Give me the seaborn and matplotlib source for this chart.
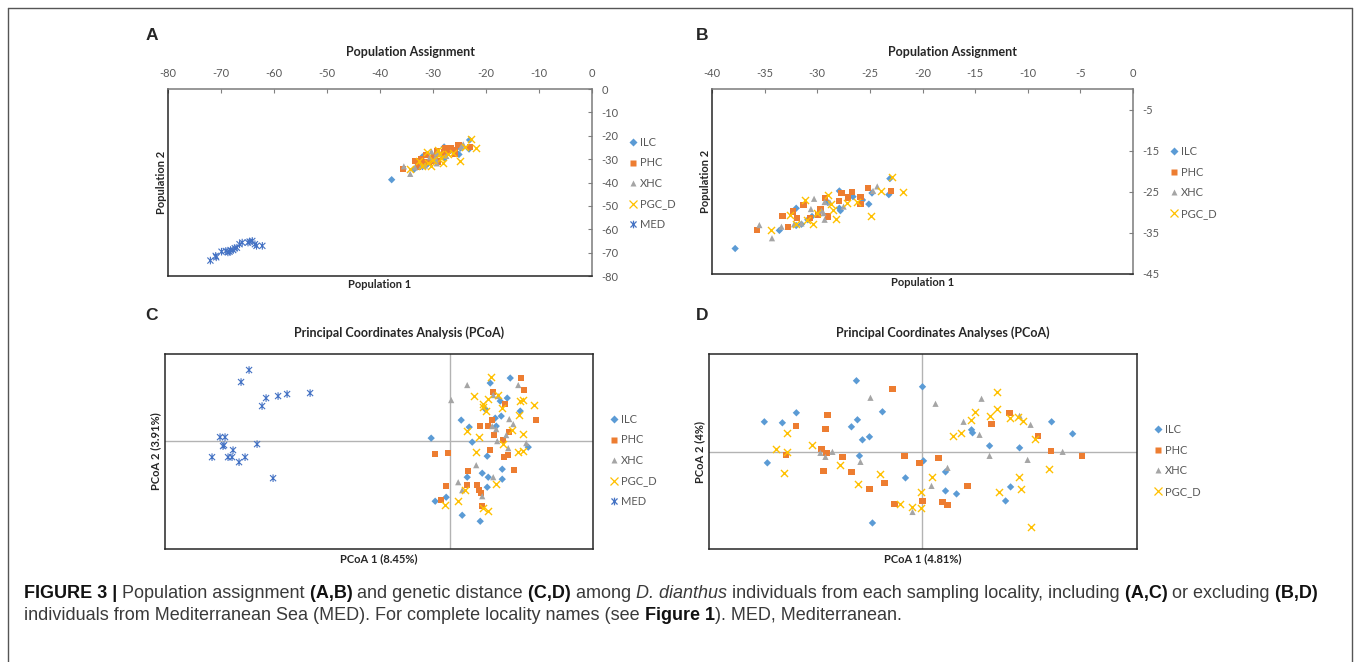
import matplotlib
matplotlib.use("Agg")
import matplotlib.pyplot as plt
from matplotlib.lines import Line2D
from matplotlib.path import Path
from matplotlib import font_manager
import pandas as pd
import seaborn as sns

sns.set_style("white")
plt.rcParams['font.family'] = ['Lato', 'DejaVu Sans']
plt.rcParams['axes.unicode_minus'] = False

W, H = 1357, 662

# ---- Population assignment (A, B): the non-MED cluster is the same in both panels
ilc_p1 = [-37.8, -33.6, -32.0, -31.5, -32.0, -30.9, -30.5, -27.9, -27.9, -27.8, -26.6, -25.7, -25.1, -24.8, -23.2, -23.1, -29.0]
ilc_p2 = [-38.8, -34.4, -33.2, -32.9, -29.0, -31.8, -31.0, -24.8, -29.0, -29.6, -26.2, -27.0, -28.0, -25.3, -25.7, -21.8, -27.6]
phc_p1 = [-35.7, -33.3, -32.8, -32.3, -31.9, -31.3, -30.7, -29.9, -29.7, -29.3, -29.0, -27.9, -27.7, -27.1, -26.7, -25.9, -25.9, -25.2, -23.0]
phc_p2 = [-34.3, -30.9, -33.5, -29.8, -31.3, -28.3, -31.3, -30.6, -29.2, -26.6, -31.0, -27.2, -25.3, -26.4, -25.1, -26.2, -27.9, -24.0, -24.9]
xhc_p1 = [-35.5, -34.3, -33.4, -32.2, -31.5, -30.6, -30.3, -29.6, -29.4, -29.3, -28.8, -29.3, -27.5, -24.7, -24.3]
xhc_p2 = [-33.1, -36.3, -33.5, -32.9, -32.7, -29.2, -26.7, -29.6, -30.2, -31.8, -27.6, -27.5, -28.6, -24.8, -23.7]
pgc_p1 = [-34.4, -32.6, -31.2, -31.0, -30.4, -30.0, -29.0, -28.7, -28.5, -28.2, -27.2, -26.2, -24.9, -23.9, -22.9, -21.9, -32.0]
pgc_p2 = [-34.4, -30.6, -27.0, -31.8, -32.9, -30.2, -25.9, -28.0, -29.4, -31.6, -27.8, -27.4, -30.8, -24.8, -21.5, -25.1, -32.9]
med_p1 = [-72.0, -71.0, -70.9, -69.9, -69.1, -68.7, -68.4, -68.2, -67.7, -67.4, -67.0, -66.5, -66.0, -64.9, -64.6, -64.1, -63.6, -63.3, -62.2]
med_p2 = [-73.4, -71.4, -72.0, -69.6, -69.3, -69.9, -69.6, -68.9, -68.9, -68.1, -67.9, -66.4, -65.7, -65.7, -65.3, -65.0, -66.4, -67.1, -67.1]

# ---- PCoA with MED (C)
c_ilc_x = [-0.19, 0.11, 0.19, 0.22, 0.35, 0.40, 0.45, 0.46, 0.51, 0.50, 0.57, 0.60, 0.70, 0.78, 0.37, 0.32, 0.38, 0.17, 0.52, 0.52, 0.37, -0.04, -0.15, 0.12, 0.30]
c_ilc_y = [0.03, 0.21, 0.14, -0.01, 0.32, 0.58, 0.23, 0.15, 0.25, 0.40, 0.43, 0.63, 0.30, -0.06, -0.15, -0.32, -0.36, -0.36, -0.28, -0.38, -0.46, -0.56, -0.60, -0.74, -0.80]
c_phc_x = [-0.15, -0.02, 0.30, 0.38, 0.42, 0.43, 0.55, 0.44, 0.53, 0.59, 0.71, 0.74, 0.86, 0.54, 0.58, 0.64, 0.40, 0.18, 0.17, 0.27, 0.29, 0.31, -0.04, -0.09, 0.32]
c_phc_y = [-0.13, -0.12, 0.15, 0.15, 0.21, 0.49, 0.37, 0.06, 0.01, 0.09, 0.63, 0.51, 0.21, -0.16, -0.14, -0.29, -0.09, -0.30, -0.44, -0.44, -0.49, -0.52, -0.45, -0.59, -0.65]
c_xhc_x = [0.17, 0.01, 0.43, 0.48, 0.68, 0.59, 0.63, 0.42, 0.46, 0.56, 0.47, 0.58, 0.76, 0.26, 0.43, 0.08, 0.12, 0.32]
c_xhc_y = [0.56, 0.41, 0.46, 0.45, 0.56, 0.22, 0.17, 0.15, 0.12, 0.06, 0.00, -0.07, -0.02, -0.24, -0.36, -0.41, -0.49, -0.55]
c_pgc_x = [0.41, 0.24, 0.33, 0.38, 0.48, 0.33, 0.36, 0.52, 0.70, 0.73, 0.84, 0.69, 0.62, 0.73, 0.17, 0.29, 0.53, 0.26, 0.68, 0.73, 0.46, 0.15, 0.08, -0.05, 0.33, 0.38]
c_pgc_y = [0.64, 0.45, 0.37, 0.42, 0.46, 0.34, 0.30, 0.33, 0.40, 0.41, 0.36, 0.26, 0.11, 0.07, 0.10, 0.04, -0.03, -0.11, -0.11, -0.10, -0.43, -0.49, -0.60, -0.64, -0.67, -0.70]
c_med_x = [-2.01, -2.09, -1.84, -1.88, -1.72, -1.63, -1.40, -2.30, -2.25, -2.27, -2.26, -2.17, -1.93, -2.38, -2.22, -2.18, -2.11, -2.05, -1.77]
c_med_y = [0.71, 0.59, 0.43, 0.35, 0.45, 0.47, 0.48, 0.04, 0.04, -0.05, -0.04, -0.09, -0.03, -0.16, -0.16, -0.16, -0.21, -0.16, -0.37]

# ---- PCoA without MED (D)
d_ilc_x = [-1.58, -1.40, -1.26, -1.55, -0.66, -0.71, -0.65, -0.40, -0.60, -0.53, -0.63, 0.00, 0.01, -0.17, 0.23, 0.23, 0.34, -0.50, 0.49, 0.50, 0.67, 0.97, 1.29, 1.50, 0.88, 0.83]
d_ilc_y = [0.30, 0.29, 0.39, -0.11, 0.71, 0.25, 0.32, 0.40, 0.12, 0.15, -0.04, 0.65, -0.09, -0.26, -0.39, -0.20, -0.42, -0.71, 0.22, 0.19, 0.06, 0.04, 0.30, 0.18, -0.35, -0.49]
d_phc_x = [-1.26, -1.36, -0.95, -0.97, -1.01, -0.96, -0.99, -0.80, -0.71, -0.53, -0.38, -0.30, -0.18, -0.03, 0.16, -0.28, 0.00, 0.20, 0.25, 0.45, 0.69, 0.87, 1.15, 1.28, 1.59]
d_phc_y = [0.26, -0.03, 0.37, 0.23, 0.03, -0.01, -0.19, -0.05, -0.20, -0.37, -0.31, 0.63, -0.04, -0.11, -0.06, -0.52, -0.49, -0.50, -0.53, -0.34, 0.28, 0.39, 0.16, 0.01, -0.04]
d_xhc_x = [-0.52, -1.02, -0.97, -0.90, -0.62, 0.13, 0.25, 0.09, -0.10, 0.59, 0.41, 0.57, 0.67, 0.97, 1.08, 1.05, 1.40]
d_xhc_y = [0.54, -0.01, -0.05, 0.00, -0.10, 0.48, -0.16, -0.34, -0.60, 0.53, 0.30, 0.17, -0.04, 0.36, 0.27, -0.08, 0.00]
d_pgc_x = [-1.35, -1.46, -1.35, -1.38, -1.10, -0.82, -0.64, -0.42, -0.22, -0.10, -0.01, -0.01, 0.09, 0.30, 0.38, 0.52, 0.48, 0.67, 0.74, 0.74, 0.87, 0.95, 1.00, 1.12, 0.96, 0.98, 0.76, 1.26, 1.08]
d_pgc_y = [0.19, 0.03, 0.00, -0.21, 0.07, -0.13, -0.32, -0.22, -0.52, -0.55, -0.40, -0.56, -0.25, 0.16, 0.19, 0.40, 0.32, 0.36, 0.43, 0.60, 0.34, 0.35, 0.31, 0.13, -0.25, -0.37, -0.40, -0.17, -0.75]

colors = {'ILC': '#5B9BD5', 'PHC': '#ED7D31', 'XHC': '#A5A5A5', 'PGC_D': '#FFC000', 'MED': '#4472C4'}
star = Path([(-1, -1), (1, 1), (-1, 1), (1, -1), (0, -1.25), (0, 1.25)],
            [Path.MOVETO, Path.LINETO, Path.MOVETO, Path.LINETO, Path.MOVETO, Path.LINETO])
markers = {'ILC': 'D', 'PHC': 's', 'XHC': '^', 'PGC_D': 'x', 'MED': star}
sizes = {'ILC': 14, 'PHC': 20, 'XHC': 20, 'PGC_D': 26, 'MED': 30}


def make_df(groups):
    frames = []
    for name, xs, ys in groups:
        frames.append(pd.DataFrame({'x': xs, 'y': ys, 'locality': name}))
    return pd.concat(frames, ignore_index=True)


assign_all = make_df([('ILC', ilc_p1, ilc_p2), ('PHC', phc_p1, phc_p2), ('XHC', xhc_p1, xhc_p2),
                      ('PGC_D', pgc_p1, pgc_p2), ('MED', med_p1, med_p2)])
assign_nomed = assign_all[assign_all['locality'] != 'MED']
pcoa_all = make_df([('ILC', c_ilc_x, c_ilc_y), ('PHC', c_phc_x, c_phc_y), ('XHC', c_xhc_x, c_xhc_y),
                    ('PGC_D', c_pgc_x, c_pgc_y), ('MED', c_med_x, c_med_y)])
pcoa_nomed = make_df([('ILC', d_ilc_x, d_ilc_y), ('PHC', d_phc_x, d_phc_y), ('XHC', d_xhc_x, d_xhc_y),
                      ('PGC_D', d_pgc_x, d_pgc_y)])


def draw_points(ax, df):
    for name in df['locality'].unique():
        sub = df[df['locality'] == name]
        c = colors[name]
        if name == 'PGC_D':
            kw = dict(color=c, linewidth=1.0)
        elif name == 'MED':
            kw = dict(color=c, facecolor='none', edgecolor=c, linewidth=0.8)
        else:
            kw = dict(color=c, edgecolor='none', linewidth=0)
        sns.scatterplot(data=sub, x='x', y='y', marker=markers[name], s=sizes[name], ax=ax, zorder=3, **kw)


def add_legend(fig, names, mx, yc):
    handles = []
    for name in names:
        m = markers[name]
        ms = sizes[name] ** 0.5
        if name in ('PGC_D', 'MED'):
            h = Line2D([], [], ls='none', marker=m, markersize=ms, markeredgecolor=colors[name],
                       markerfacecolor='none', markeredgewidth=0.9)
        else:
            h = Line2D([], [], ls='none', marker=m, markersize=ms, markerfacecolor=colors[name],
                       markeredgecolor='none')
        handles.append(h)
    fs = 8
    f_px = fs * 100 / 72
    leg = fig.legend(handles, names, loc='center left', bbox_to_anchor=((mx - 0.3 * f_px) / W, 1 - yc / H),
                     frameon=False, fontsize=fs, handlelength=0.6, handletextpad=0.35, labelspacing=0.86,
                     borderpad=0, borderaxespad=0)
    for t in leg.get_texts():
        t.set_color('#595959')


def box(l, t, r, b):
    return [l / W, 1 - b / H, (r - l) / W, (b - t) / H]


fig = plt.figure(figsize=(W / 100, H / 100), dpi=100)

axA = fig.add_axes(box(168, 89, 592, 276))
axB = fig.add_axes(box(712, 89, 1133, 274))
axC = fig.add_axes(box(165, 354, 593, 549))
axD = fig.add_axes(box(709, 354, 1137, 549))

draw_points(axA, assign_all)
draw_points(axB, assign_nomed)
draw_points(axC, pcoa_all)
draw_points(axD, pcoa_nomed)

for ax, xlim, ylim, xt, yt in [(axA, (-80, 0), (-80, 0), range(-80, 1, 10), range(-80, 1, 10)),
                               (axB, (-40, 0), (-45, 0), range(-40, 1, 5), range(-45, 0, 10))]:
    ax.set_xlim(xlim)
    ax.set_ylim(ylim)
    ax.xaxis.tick_top()
    ax.yaxis.tick_right()
    ax.set_xticks(list(xt))
    ax.set_yticks(list(yt))
    ax.tick_params(direction='in', length=3, width=0.8, color='#808080', labelsize=8,
                   labelcolor='#595959', pad=7)
    ax.xaxis.set_label_position('bottom')
    ax.yaxis.set_label_position('left')
    ax.set_xlabel('Population 1', fontsize=8, fontweight='bold', color='#262626', labelpad=2)
    ax.set_ylabel('Population 2', fontsize=8, fontweight='bold', color='#262626', labelpad=1)
    for side in ['left', 'bottom']:
        ax.spines[side].set_color('#262626')
        ax.spines[side].set_linewidth(1.1)
    for side in ['top', 'right']:
        ax.spines[side].set_color('#7a7a7a')
        ax.spines[side].set_linewidth(1.1)

for ax, xlim, ylim, xl, yl in [(axC, (-2.85, 1.427), (-1.077, 0.87), 'PCoA 1 (8.45%)', 'PCoA 2 (3.91%)'),
                               (axD, (-2.133, 2.143), (-0.97, 0.977), 'PCoA 1 (4.81%)', 'PCoA 2 (4%)')]:
    ax.set_xlim(xlim)
    ax.set_ylim(ylim)
    ax.set_xticks([])
    ax.set_yticks([])
    ax.axhline(0, color='#b3b3b3', lw=1, zorder=1)
    ax.axvline(0, color='#b3b3b3', lw=1, zorder=1)
    ax.set_xlabel(xl, fontsize=8, fontweight='bold', color='#262626', labelpad=3)
    ax.set_ylabel(yl, fontsize=8, fontweight='bold', color='#262626', labelpad=3)
    for side in ax.spines:
        ax.spines[side].set_color('#262626')
        ax.spines[side].set_linewidth(1.1)

add_legend(fig, ['ILC', 'PHC', 'XHC', 'PGC_D', 'MED'], 633, 183.5)
add_legend(fig, ['ILC', 'PHC', 'XHC', 'PGC_D'], 1174, 182.5)
add_legend(fig, ['ILC', 'PHC', 'XHC', 'PGC_D', 'MED'], 614, 460.5)
add_legend(fig, ['ILC', 'PHC', 'XHC', 'PGC_D'], 1158, 460.5)

titles = [('Population Assignment', 411, 52), ('Population Assignment', 953, 52),
          ('Principal Coordinates Analysis (PCoA)', 399, 333), ('Principal Coordinates Analyses (PCoA)', 943, 333)]
for txt, x, y in titles:
    fig.text(x / W, 1 - y / H, txt, fontsize=9, fontweight='bold', color='#262626', ha='center', va='center')

for letter, x, y in [('A', 152, 35), ('B', 702, 35), ('C', 152, 315), ('D', 702, 315)]:
    fig.text(x / W, 1 - y / H, letter, fontsize=12.5, fontweight='bold', family='Liberation Sans',
             ha='center', va='center')

# outer frame, open at the bottom
frame_kw = dict(transform=fig.transFigure, color='#555555', lw=1)
fig.add_artist(Line2D([8 / W, 8 / W], [0, 1 - 8 / H], **frame_kw))
fig.add_artist(Line2D([8 / W, 1352 / W], [1 - 8 / H, 1 - 8 / H], **frame_kw))
fig.add_artist(Line2D([1352 / W, 1352 / W], [0, 1 - 8 / H], **frame_kw))

# caption with mixed bold / italic runs (spaces lead each run, never trail)
names = {f.name for f in font_manager.fontManager.ttflist}
cap_family = 'Liberation Sans Narrow' if 'Liberation Sans Narrow' in names else 'Liberation Sans'
REG, BLD = '#3a3a3a', '#111111'
line1 = [('FIGURE 3 |', 'bold', 'normal', BLD), (' Population assignment', 'normal', 'normal', REG),
         (' (A,B)', 'bold', 'normal', BLD), (' and genetic distance', 'normal', 'normal', REG),
         (' (C,D)', 'bold', 'normal', BLD), (' among', 'normal', 'normal', REG),
         (' D. dianthus', 'normal', 'italic', REG),
         (' individuals from each sampling locality, including', 'normal', 'normal', REG),
         (' (A,C)', 'bold', 'normal', BLD), (' or excluding', 'normal', 'normal', REG),
         (' (B,D)', 'bold', 'normal', BLD)]
line2 = [('individuals from Mediterranean Sea (MED). For complete locality names (see', 'normal', 'normal', REG),
         (' Figure 1', 'bold', 'normal', BLD), ('). MED, Mediterranean.', 'normal', 'normal', REG)]

renderer = fig.canvas.get_renderer()


def run_width(text, size, weight, style):
    a = fig.text(0, 0, text + '.', fontsize=size, family=cap_family, fontweight=weight, fontstyle=style)
    b = fig.text(0, 0, '.', fontsize=size, family=cap_family, fontweight=weight, fontstyle=style)
    w = a.get_window_extent(renderer).width - b.get_window_extent(renderer).width
    a.remove()
    b.remove()
    return w


def rich_line(parts, x, y, size, draw=True):
    for text, weight, style, color in parts:
        if draw:
            fig.text(x / W, 1 - y / H, text, fontsize=size, family=cap_family, fontweight=weight,
                     fontstyle=style, color=color, ha='left', va='baseline')
        x += run_width(text, size, weight, style)
    return x


base = 10
w1 = rich_line(line1, 0, 0, base, draw=False)
cap_size = base * (1323 - 24) / w1
rich_line(line1, 24, 598, cap_size)
rich_line(line2, 24, 620, cap_size)

fig.savefig('out.png', dpi=100)
